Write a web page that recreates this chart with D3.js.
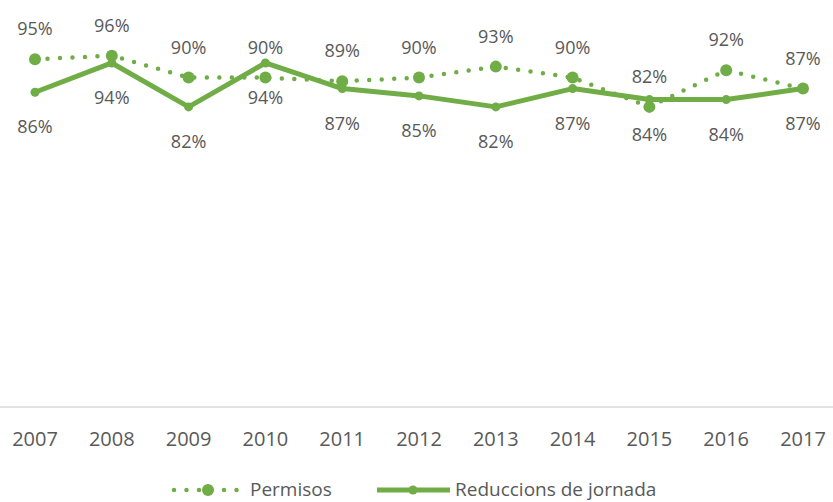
<!DOCTYPE html>
<html>
<head>
<meta charset="utf-8">
<script src="https://cdn.jsdelivr.net/npm/d3@7"></script>
<style>
  body { margin: 0; background: #fff; }
  text { font-family: "Open Sans", sans-serif; fill: #595959; }
</style>
</head>
<body>
<div id="chart"></div>
<script>
var years = ["2007","2008","2009","2010","2011","2012","2013","2014","2015","2016","2017"];
var permisos = [95, 96, 90, 90, 89, 90, 93, 90, 82, 92, 87];
var reduccions = [86, 94, 82, 94, 87, 85, 82, 87, 84, 84, 87];
var seriesNames = ["Permisos", "Reduccions de jornada"];

var width = 833, height = 502;
var green = "#70ad47";

var svg = d3.select("#chart")
  .append("svg")
    .attr("width", width)
    .attr("height", height);

// scales
var x = d3.scalePoint()
  .domain(years)
  .range([35, 803]);

var y = d3.scaleLinear()
  .domain([0, 100])
  .range([407, 41]);

// axis line
svg.append("line")
  .attr("x1", 0).attr("x2", width)
  .attr("y1", y(0)).attr("y2", y(0))
  .attr("stroke", "#d9d9d9")
  .attr("stroke-width", 1.5);

// year labels
svg.append("g")
  .selectAll("text")
  .data(years)
  .enter()
  .append("text")
    .attr("x", function(d) { return x(d); })
    .attr("y", 446)
    .attr("text-anchor", "middle")
    .attr("font-size", "20px")
    .text(function(d) { return d; });

var line = d3.line()
  .x(function(d, i) { return x(years[i]); })
  .y(function(d) { return y(d); });

// Permisos - dotted
svg.append("path")
  .datum(permisos)
  .attr("fill", "none")
  .attr("stroke", green)
  .attr("stroke-width", 4.5)
  .attr("stroke-linecap", "round")
  .attr("stroke-dasharray", "0,12.5")
  .attr("d", line);

// Reduccions - solid
svg.append("path")
  .datum(reduccions)
  .attr("fill", "none")
  .attr("stroke", green)
  .attr("stroke-width", 5)
  .attr("stroke-linejoin", "round")
  .attr("d", line);

// markers
svg.append("g")
  .selectAll("circle")
  .data(permisos)
  .enter()
  .append("circle")
    .attr("cx", function(d, i) { return x(years[i]); })
    .attr("cy", function(d) { return y(d); })
    .attr("r", 6)
    .attr("fill", green);

svg.append("g")
  .selectAll("circle")
  .data(reduccions)
  .enter()
  .append("circle")
    .attr("cx", function(d, i) { return x(years[i]); })
    .attr("cy", function(d) { return y(d); })
    .attr("r", 4.5)
    .attr("fill", green);

// data labels
svg.append("g")
  .selectAll("text")
  .data(permisos)
  .enter()
  .append("text")
    .attr("x", function(d, i) { return x(years[i]); })
    .attr("y", function(d) { return y(d) - 24; })
    .attr("text-anchor", "middle")
    .attr("font-size", "18px")
    .text(function(d) { return d + "%"; });

svg.append("g")
  .selectAll("text")
  .data(reduccions)
  .enter()
  .append("text")
    .attr("x", function(d, i) { return x(years[i]); })
    .attr("y", function(d) { return y(d) + 41; })
    .attr("text-anchor", "middle")
    .attr("font-size", "18px")
    .text(function(d) { return d + "%"; });

// legend
var legend = svg.append("g").attr("class", "legend");

legend.append("line")
  .attr("x1", 174).attr("x2", 242)
  .attr("y1", 490).attr("y2", 490)
  .attr("stroke", green)
  .attr("stroke-width", 4.5)
  .attr("stroke-linecap", "round")
  .attr("stroke-dasharray", "0,12.5");
legend.append("circle")
  .attr("cx", 208).attr("cy", 490).attr("r", 6)
  .attr("fill", green);
legend.append("text")
  .attr("x", 250).attr("y", 496)
  .attr("font-size", "19px")
  .text(seriesNames[0]);

legend.append("line")
  .attr("x1", 377).attr("x2", 450)
  .attr("y1", 490).attr("y2", 490)
  .attr("stroke", green)
  .attr("stroke-width", 5);
legend.append("circle")
  .attr("cx", 413).attr("cy", 490).attr("r", 4.5)
  .attr("fill", green);
legend.append("text")
  .attr("x", 455).attr("y", 496)
  .attr("font-size", "19px")
  .text(seriesNames[1]);
</script>
</body>
</html>
